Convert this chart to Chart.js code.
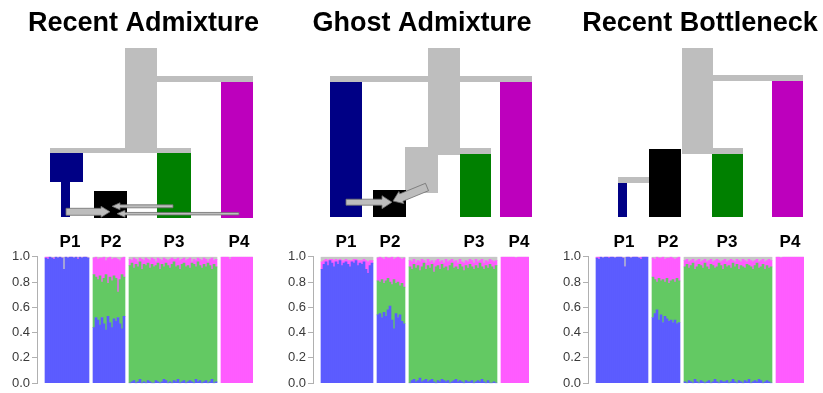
<!DOCTYPE html>
<html>
<head>
<meta charset="utf-8">
<script src="https://cdn.jsdelivr.net/npm/chart.js@4"></script>
<style>
  html, body { margin: 0; padding: 0; background: #fff; width: 823px; height: 393px; overflow: hidden; position: relative; }
  canvas { position: absolute; }
</style>
</head>
<body>
<canvas id="tree1" width="287" height="252" style="left:0;top:0"></canvas>
<canvas id="tree2" width="284" height="252" style="left:280px;top:0"></canvas>
<canvas id="tree3" width="244" height="252" style="left:578px;top:0"></canvas>
<canvas id="struct1" width="253" height="146" style="left:0;top:247px"></canvas>
<canvas id="struct2" width="253" height="146" style="left:276px;top:247px"></canvas>
<canvas id="struct3" width="253" height="146" style="left:551px;top:247px"></canvas>
<script>
// -- data: model trees ------------------------------------------------------>
// x: figure units across the page, t: height above the present (time units)
const popNames = ['P1', 'P2', 'P3', 'P4']

const raLabelX = [70, 111, 174, 239]
const raBranches = [
    { pop: 'anc', x: [125, 157], t: [65, 170] },
    { pop: 'anc', x: [157, 253], t: [136, 142] },
    { pop: 'anc', x: [50, 191], t: [65, 70] },
    { pop: 'P1', x: [50, 83], t: [36, 65] },
    { pop: 'P1', x: [61, 70], t: [1, 36] },
    { pop: 'P2', x: [94, 127], t: [0, 27] },
    { pop: 'P3', x: [157, 191], t: [0, 65] },
    { pop: 'P4', x: [221, 253], t: [0, 136] }
]
const raArrows = [
    { tail: [66, 6.2], tip: [110, 6.2], kind: 'bold' },
    { tail: [173, 11.7], tip: [112, 11.7], kind: 'thin' },
    { tail: [239, 4.3], tip: [117, 4.3], kind: 'fine' }
]

const gaLabelX = [346, 390, 474, 519]
const gaBranches = [
    { pop: 'anc', x: [428, 460], t: [63, 170] },
    { pop: 'anc', x: [330, 532], t: [136, 142] },
    { pop: 'anc', x: [405, 438], t: [25, 71] },
    { pop: 'anc', x: [438, 491], t: [64, 70] },
    { pop: 'P1', x: [330, 362], t: [1, 136] },
    { pop: 'P2', x: [373, 406], t: [1, 28] },
    { pop: 'P3', x: [460, 491], t: [1, 64] },
    { pop: 'P4', x: [500, 532], t: [1, 136] }
]
const gaArrows = [
    { tail: [346, 15.8], tip: [392, 15.8], kind: 'wide' },
    { tail: [427, 31], tip: [393, 17], kind: 'ghost' }
]

const rbLabelX = [624, 668, 727, 790]
const rbBranches = [
    { pop: 'anc', x: [682, 713], t: [64, 170] },
    { pop: 'anc', x: [713, 803], t: [137, 143] },
    { pop: 'anc', x: [713, 743], t: [64, 70] },
    { pop: 'anc', x: [618, 649], t: [35, 41] },
    { pop: 'P1', x: [618, 627], t: [1, 35] },
    { pop: 'P2', x: [649, 681], t: [1, 69] },
    { pop: 'P3', x: [712, 743], t: [1, 64] },
    { pop: 'P4', x: [772, 803], t: [1, 137] }
]
const rbArrows = []

// -- data: ancestry proportions per individual ------------------------------>
// Recent Admixture
const ra_p1_blue = [0.99,0.98,1,0.99,0.98,1,0.99,1,0.99,0.9,1,0.99,1,1,0.99,1,0.98,1,0.99,1,1,0.99]
const ra_p1_pink = [0.01,0.02,0,0,0.01,0,0,0,0,0,0,0,0,0,0,0,0.01,0,0,0,0,0]
const ra_p1_gray = [0,0,0,0.01,0.01,0,0.01,0,0.01,0.1,0,0.01,0,0,0.01,0,0.01,0,0.01,0,0,0.01]
const ra_p2_blue = [0.44,0.52,0.50,0.46,0.52,0.47,0.42,0.53,0.48,0.44,0.51,0.49,0.52,0.47,0.43,0.53]
const ra_p2_green = [0.42,0.32,0.32,0.39,0.28,0.36,0.44,0.26,0.36,0.37,0.34,0.34,0.20,0.35,0.43,0.31]
const ra_p2_pink = [0.13,0.16,0.16,0.14,0.19,0.17,0.11,0.20,0.16,0.17,0.14,0.16,0.26,0.15,0.13,0.16]
const ra_p2_gray = [0.01,0,0.02,0.01,0.01,0,0.03,0.01,0,0.02,0.01,0.01,0.02,0.03,0.01,0]
const ra_p3_blue = [0,0.01,0.02,0,0.01,0.03,0,0.01,0,0.02,0.01,0,0,0.02,0.01,0,0.01,0.03,0.02,0,0.01,0,0.02,0.01,0.03,0,0.01,0.02,0,0.01,0.02,0.01,0,0.03,0.01,0.02,0,0.01,0.02,0,0.01,0.03,0,0.01]
const ra_p3_green = [0.93,0.94,0.89,0.94,0.91,0.93,0.90,0.93,0.93,0.93,0.90,0.94,0.92,0.91,0.94,0.90,0.93,0.89,0.93,0.93,0.90,0.94,0.94,0.91,0.90,0.90,0.93,0.93,0.92,0.92,0.89,0.94,0.94,0.89,0.95,0.91,0.91,0.93,0.90,0.95,0.92,0.87,0.94,0.91]
const ra_p3_pink = [0.05,0.02,0.08,0.04,0.04,0.03,0.08,0.03,0.06,0.03,0.06,0.05,0.06,0.03,0.04,0.08,0.03,0.07,0.03,0.04,0.07,0.05,0.02,0.06,0.06,0.07,0.04,0.04,0.05,0.05,0.08,0.01,0.04,0.05,0.03,0.05,0.06,0.05,0.06,0.01,0.05,0.09,0.03,0.06]
const ra_p3_gray = [0.02,0.03,0.01,0.02,0.04,0.01,0.02,0.03,0.01,0.02,0.03,0.01,0.02,0.04,0.01,0.02,0.03,0.01,0.02,0.03,0.02,0.01,0.02,0.02,0.01,0.03,0.02,0.01,0.03,0.02,0.01,0.04,0.02,0.03,0.01,0.02,0.03,0.01,0.02,0.04,0.02,0.01,0.03,0.02]
const ra_p4_pink = [1,1,1,1,0.98,1,1,1,1,1,1,1,1,1,1,1]
const ra_p4_gray = [0,0,0,0,0.02,0,0,0,0,0,0,0,0,0,0,0]

// Ghost Admixture
const ga_p1_blue = [0.90,0.94,0.96,0.93,0.97,0.95,0.92,0.96,0.94,0.97,0.93,0.95,0.96,0.94,0.92,0.96,0.95,0.97,0.93,0.95,0.94,0.96,0.90,0.87,0.93,0.95]
const ga_p1_pink = [0.06,0.03,0.02,0.04,0.01,0.03,0.05,0.02,0.03,0.01,0.04,0.02,0.02,0.03,0.05,0.01,0.03,0.01,0.04,0.02,0.03,0.02,0.07,0.09,0.04,0.02]
const ga_p1_gray = [0.04,0.03,0.02,0.03,0.02,0.02,0.03,0.02,0.03,0.02,0.03,0.03,0.02,0.03,0.03,0.03,0.02,0.02,0.03,0.03,0.03,0.02,0.03,0.04,0.03,0.03]
const ga_p2_blue = [0.54,0.55,0.52,0.56,0.53,0.58,0.61,0.50,0.43,0.55,0.52,0.54,0.49,0.47]
const ga_p2_green = [0.27,0.25,0.30,0.23,0.28,0.25,0.19,0.28,0.39,0.24,0.28,0.23,0.30,0.29]
const ga_p2_pink = [0.18,0.20,0.17,0.19,0.19,0.16,0.19,0.22,0.16,0.20,0.20,0.22,0.19,0.23]
const ga_p2_gray = [0.01,0,0.01,0.02,0,0.01,0.01,0,0.02,0.01,0,0.01,0.02,0.01]
const ga_p3_blue = [0,0.02,0.03,0.01,0.02,0.04,0.01,0.02,0.03,0.01,0.02,0.03,0.01,0,0.02,0.01,0.03,0.02,0.01,0.02,0,0.01,0.02,0.03,0.01,0.02,0.01,0,0.02,0.01,0.01,0.02,0,0.01,0.02,0.01,0.03,0.01,0,0.02,0,0,0.01,0]
const ga_p3_green = [0.92,0.88,0.91,0.90,0.91,0.85,0.91,0.93,0.87,0.92,0.89,0.91,0.87,0.92,0.91,0.89,0.91,0.89,0.91,0.87,0.93,0.94,0.89,0.89,0.89,0.92,0.91,0.89,0.91,0.90,0.93,0.90,0.90,0.92,0.89,0.94,0.89,0.89,0.93,0.89,0.94,0.92,0.89,0.93]
const ga_p3_pink = [0.05,0.06,0.04,0.04,0.04,0.07,0.06,0.02,0.05,0.05,0.05,0.03,0.07,0.05,0.05,0.06,0.03,0.04,0.06,0.07,0.04,0.03,0.05,0.05,0.05,0.04,0.04,0.06,0.04,0.05,0.04,0.05,0.05,0.05,0.05,0.02,0.06,0.05,0.04,0.05,0.04,0.05,0.06,0.04]
const ga_p3_gray = [0.03,0.04,0.02,0.05,0.03,0.04,0.02,0.03,0.05,0.02,0.04,0.03,0.05,0.03,0.02,0.04,0.03,0.05,0.02,0.04,0.03,0.02,0.04,0.03,0.05,0.02,0.04,0.05,0.03,0.04,0.02,0.03,0.05,0.02,0.04,0.03,0.02,0.05,0.03,0.04,0.02,0.03,0.04,0.03]
const ga_p4_pink = [1,1,1,1,1,1,1,0.99,1,1,1,1,1,1]
const ga_p4_gray = [0,0,0,0,0,0,0,0.01,0,0,0,0,0,0]

// Recent Bottleneck
const rb_p1_blue = [0.99,0.98,1,0.99,1,1,0.99,1,1,0.99,1,1,1,0.99,0.92,1,1,0.99,1,1,1,0.99,0.98,1,1,1]
const rb_p1_pink = [0.01,0.02,0,0,0,0,0.01,0,0,0,0,0,0,0,0,0,0,0,0,0,0,0,0.02,0,0,0]
const rb_p1_gray = [0,0,0,0.01,0,0,0,0,0,0.01,0,0,0,0.01,0.08,0,0,0.01,0,0,0,0.01,0,0,0,0]
const rb_p2_blue = [0.52,0.55,0.58,0.50,0.54,0.48,0.53,0.51,0.49,0.50,0.48,0.50,0.47,0.48]
const rb_p2_green = [0.32,0.27,0.22,0.33,0.27,0.34,0.27,0.32,0.30,0.31,0.34,0.30,0.36,0.33]
const rb_p2_pink = [0.15,0.16,0.20,0.16,0.18,0.18,0.18,0.16,0.20,0.19,0.17,0.18,0.16,0.19]
const rb_p2_gray = [0.01,0.02,0,0.01,0.01,0,0.02,0.01,0.01,0,0.01,0.02,0.01,0]
const rb_p3_blue = [0.01,0,0.02,0.01,0,0.03,0.01,0,0.02,0.01,0,0.01,0.02,0,0.01,0.03,0.01,0,0.02,0.01,0.01,0.02,0,0.01,0.03,0.01,0,0.02,0.01,0,0.02,0.01,0.03,0,0.01,0.02,0.01,0.03,0.02,0,0.01,0.02,0.01,0]
const rb_p3_green = [0.91,0.94,0.89,0.92,0.95,0.87,0.91,0.94,0.91,0.90,0.95,0.91,0.88,0.94,0.92,0.88,0.91,0.95,0.91,0.89,0.93,0.90,0.93,0.90,0.92,0.91,0.94,0.88,0.92,0.92,0.89,0.93,0.90,0.92,0.89,0.91,0.94,0.88,0.90,0.94,0.89,0.91,0.90,0.92]
const rb_p3_pink = [0.05,0.04,0.05,0.04,0.03,0.06,0.05,0.04,0.03,0.06,0.03,0.04,0.07,0.04,0.03,0.06,0.06,0.02,0.03,0.07,0.04,0.04,0.04,0.07,0.02,0.04,0.04,0.07,0.03,0.06,0.06,0.02,0.05,0.05,0.06,0.04,0.03,0.05,0.05,0.04,0.06,0.04,0.07,0.05]
const rb_p3_gray = [0.03,0.02,0.04,0.03,0.02,0.04,0.03,0.02,0.04,0.03,0.02,0.04,0.03,0.02,0.04,0.03,0.02,0.03,0.04,0.03,0.02,0.04,0.03,0.02,0.03,0.04,0.02,0.03,0.04,0.02,0.03,0.04,0.02,0.03,0.04,0.03,0.02,0.04,0.03,0.02,0.04,0.03,0.02,0.03]
const rb_p4_pink = [1,1,0.99,1,1,1,1,1,1,1,1,1,1,1]
const rb_p4_gray = [0,0,0.01,0,0,0,0,0,0,0,0,0,0,0]

// -- styles ----------------------------------------------------------------->
const FONT = "'Liberation Sans', Arial, Helvetica, sans-serif"
const treeColors = { anc: '#bebebe', P1: '#000085', P2: '#000000', P3: '#008000', P4: '#bd00bd' }
const arrowKinds = {
    bold: { w: 7, hl: 9, hw: 11 },
    thin: { w: 3, hl: 8, hw: 7 },
    fine: { w: 2.5, hl: 8, hw: 7 },
    wide: { w: 6, hl: 10, hw: 13 },
    ghost: { w: 8, hl: 9, hw: 13 }
}
const clusterColors = { blue: '#5c5cff', green: '#63c963', pink: '#ff5cff', gray: '#c6c6c6' }

// -- tree drawing ----------------------------------------------------------->
function drawArrow(ctx, x, y, a) {
    const k = arrowKinds[a.kind]
    const x0 = x.getPixelForValue(a.tail[0]), y0 = y.getPixelForValue(a.tail[1])
    const x1 = x.getPixelForValue(a.tip[0]), y1 = y.getPixelForValue(a.tip[1])
    const len = Math.hypot(x1 - x0, y1 - y0)
    const dx = (x1 - x0) / len, dy = (y1 - y0) / len
    const nx = -dy, ny = dx
    const bx = x1 - dx * k.hl, by = y1 - dy * k.hl
    ctx.beginPath()
    ctx.moveTo(x0 + nx * k.w / 2, y0 + ny * k.w / 2)
    ctx.lineTo(bx + nx * k.w / 2, by + ny * k.w / 2)
    ctx.lineTo(bx + nx * k.hw / 2, by + ny * k.hw / 2)
    ctx.lineTo(x1, y1)
    ctx.lineTo(bx - nx * k.hw / 2, by - ny * k.hw / 2)
    ctx.lineTo(bx - nx * k.w / 2, by - ny * k.w / 2)
    ctx.lineTo(x0 - nx * k.w / 2, y0 - ny * k.w / 2)
    ctx.closePath()
    ctx.fillStyle = '#bdbdbd'
    ctx.fill()
    ctx.strokeStyle = '#6f6f6f'
    ctx.lineWidth = 0.8
    ctx.stroke()
}

const treePlugin = {
    id: 'tree',
    beforeDatasetsDraw(chart, args, opts) {
        const { ctx, scales: { x, y } } = chart
        ctx.save()
        opts.branches.forEach(b => {
            const l = x.getPixelForValue(b.x[0]), r = x.getPixelForValue(b.x[1])
            const top = y.getPixelForValue(b.t[1]), bot = y.getPixelForValue(b.t[0])
            ctx.fillStyle = treeColors[b.pop]
            ctx.fillRect(l, top, r - l, bot - top)
        })
        opts.arrows.forEach(a => drawArrow(ctx, x, y, a))
        ctx.restore()
    }
}

function treeChart(id, title, xmin, xmax, branches, arrows, labelX) {
    return new Chart(document.getElementById(id), {
        type: 'scatter',
        data: { datasets: [] },
        options: {
            responsive: false,
            animation: false,
            layout: { padding: 0 },
            plugins: {
                legend: { display: false },
                tooltip: { enabled: false },
                title: {
                    display: true, text: title, color: '#000',
                    font: { size: 27, weight: 'bold', family: FONT },
                    padding: { top: 7.3, bottom: 8.3 }
                },
                tree: { branches, arrows }
            },
            scales: {
                x: {
                    type: 'linear', min: xmin, max: xmax,
                    grid: { display: false, drawTicks: false },
                    border: { display: false },
                    afterBuildTicks: s => { s.ticks = labelX.map(v => ({ value: v })) },
                    afterFit: s => { s.height = 34 },
                    ticks: {
                        autoSkip: false, maxRotation: 0, padding: 14, color: '#000',
                        font: { size: 17, weight: 'bold', family: FONT },
                        callback: (v, i) => popNames[i]
                    }
                },
                y: { type: 'linear', display: false, min: 0, max: 170 }
            }
        },
        plugins: [treePlugin]
    })
}

// -- structure bar plots ---------------------------------------------------->
const leadSlots = 4, gapSlots = 2

function place(parts, sizes) {
    let out = Array(leadSlots).fill(null)
    parts.forEach((p, i) => {
        if (i > 0) out = out.concat(Array(gapSlots).fill(null))
        out = out.concat(p || Array(sizes[i]).fill(null))
    })
    return out
}

function individuals(sizes) {
    let out = []
    for (let k = 0; k < leadSlots; k++) out.push('lead' + k)
    sizes.forEach((n, i) => {
        if (i > 0) for (let k = 0; k < gapSlots; k++) out.push('gap' + i + k)
        for (let k = 0; k < n; k++) out.push(popNames[i] + '.' + (k + 1))
    })
    return out
}

function structureChart(id, blue, green, pink, gray) {
    const sizes = [0, 1, 2, 3].map(i => (blue[i] || green[i] || pink[i] || gray[i]).length)
    const ds = (name, parts) => ({
        label: name, data: place(parts, sizes),
        backgroundColor: clusterColors[name], borderWidth: 0,
        barPercentage: 1, categoryPercentage: 1, clip: 0
    })
    return new Chart(document.getElementById(id), {
        type: 'bar',
        data: {
            labels: individuals(sizes),
            datasets: [ds('blue', blue), ds('green', green), ds('pink', pink), ds('gray', gray)]
        },
        options: {
            responsive: false,
            animation: false,
            layout: { padding: { top: 8, bottom: 7, left: 0, right: 0 } },
            plugins: { legend: { display: false }, tooltip: { enabled: false } },
            scales: {
                x: { stacked: true, display: false },
                y: {
                    stacked: true, min: 0, max: 1,
                    afterFit: s => { s.width = 37 },
                    grid: { drawOnChartArea: false, tickLength: 5, color: '#b0b0b0' },
                    border: { color: '#b0b0b0' },
                    ticks: {
                        stepSize: 0.2, padding: 2, color: '#3a3a3a',
                        font: { size: 13, family: FONT },
                        callback: v => v.toFixed(1)
                    }
                }
            }
        }
    })
}

// -- graphs ----------------------------------------------------------------->
treeChart('tree1', 'Recent Admixture', 0, 287, raBranches, raArrows, raLabelX)
treeChart('tree2', 'Ghost Admixture', 280, 564, gaBranches, gaArrows, gaLabelX)
treeChart('tree3', 'Recent Bottleneck', 578, 822, rbBranches, rbArrows, rbLabelX)

structureChart('struct1',
    [ra_p1_blue, ra_p2_blue, ra_p3_blue, null],
    [null, ra_p2_green, ra_p3_green, null],
    [ra_p1_pink, ra_p2_pink, ra_p3_pink, ra_p4_pink],
    [ra_p1_gray, ra_p2_gray, ra_p3_gray, ra_p4_gray])
structureChart('struct2',
    [ga_p1_blue, ga_p2_blue, ga_p3_blue, null],
    [null, ga_p2_green, ga_p3_green, null],
    [ga_p1_pink, ga_p2_pink, ga_p3_pink, ga_p4_pink],
    [ga_p1_gray, ga_p2_gray, ga_p3_gray, ga_p4_gray])
structureChart('struct3',
    [rb_p1_blue, rb_p2_blue, rb_p3_blue, null],
    [null, rb_p2_green, rb_p3_green, null],
    [rb_p1_pink, rb_p2_pink, rb_p3_pink, rb_p4_pink],
    [rb_p1_gray, rb_p2_gray, rb_p3_gray, rb_p4_gray])
</script>
</body>
</html>
